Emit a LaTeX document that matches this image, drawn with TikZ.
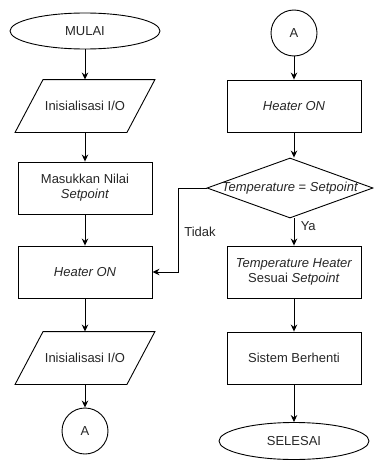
\documentclass[tikz,border=0pt]{standalone}
\usepackage{fontspec}
\setmainfont{Liberation Sans}
\usepackage{tikz}
\usetikzlibrary{shapes.geometric,arrows.meta,positioning}

\tikzset{
    flow/.style={draw, line width=0.9pt, text=black!85, font=\fontsize{13pt}{15pt}\selectfont, align=center, inner sep=0pt},
    terminal/.style={flow, ellipse, minimum width=150pt, minimum height=36pt},
    proses/.style={flow, rectangle, minimum width=134pt, minimum height=52pt},
    inout/.style={flow, draw=none, rectangle, minimum width=111pt, minimum height=52pt},
    konektor/.style={flow, circle, minimum size=46pt},
    keputusan/.style={flow, diamond, minimum width=166pt, minimum height=60pt},
    garis/.style={line width=0.9pt, ->, >={Stealth[length=7pt,width=6.5pt]}},
    label/.style={font=\fontsize{13pt}{15pt}\selectfont, text=black!85}
}

\begin{document}
\begin{tikzpicture}[x=1pt, y=-1pt]
        \useasboundingbox (0,0) rectangle (374,463);
        % kolom kiri
        \node[terminal] (mulai) at (85,31) {MULAI};
        \node[inout] (init1) at (85,106) {Inisialisasi I/O};
        \node[proses] (nilai) at (85,188) {Masukkan Nilai\\\textit{Setpoint}};
        \node[proses] (heatL) at (85,272) {\textit{Heater ON}};
        \node[inout] (init2) at (85,358) {Inisialisasi I/O};
        \node[konektor] (conA) at (85,431) {A};
        % jajaran genjang input/output
        \foreach \n in {init1,init2} {
            \draw[line width=0.9pt] ([xshift=14pt]\n.north west) -- ([xshift=14pt]\n.north east)
                -- ([xshift=-14pt]\n.south east) -- ([xshift=-14pt]\n.south west) -- cycle;
        }
        % kolom kanan
        \node[konektor] (conB) at (294,33) {A};
        \node[proses] (heatR) at (294,106) {\textit{Heater ON}};
        \node[keputusan] (cek) at (290,188) {\makebox[0pt]{\textit{Temperature} = \textit{Setpoint}}};
        \node[proses] (sesuai) at (294,272) {\textit{Temperature Heater}\\Sesuai \textit{Setpoint}};
        \node[proses] (berhenti) at (294,358) {Sistem Berhenti};
        \node[terminal, minimum height=37pt] (selesai) at (294,441) {SELESAI};
        % panah
        \draw[garis] (mulai) -- (init1);
        \draw[garis] (init1) -- (nilai);
        \draw[garis] (nilai) -- (heatL);
        \draw[garis] (heatL) -- (init2);
        \draw[garis] (init2) -- (conA);
        \draw[garis] (conB) -- (heatR);
        \draw[garis] (heatR.south) -- (heatR.south |- cek.north);
        \draw[garis] (cek.south -| sesuai.north) -- (sesuai.north)
            node[pos=0.3, anchor=west, xshift=3pt, label] {Ya};
        \draw[garis] (sesuai) -- (berhenti);
        \draw[garis] (berhenti) -- (selesai);
        \draw[garis] (cek.west) -- ++(-28,0) |- (heatL.east)
            node[pos=0.26, right=2pt, label] {Tidak};
    \end{tikzpicture}
\end{document}
